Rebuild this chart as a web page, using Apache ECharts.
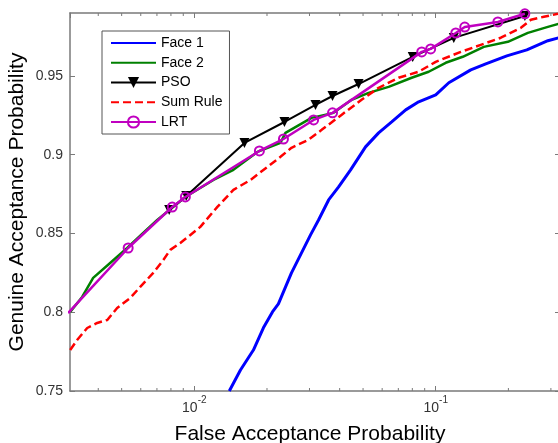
<!DOCTYPE html>
<html>
<head>
<meta charset="utf-8">
<script src="https://cdn.jsdelivr.net/npm/echarts@6/dist/echarts.min.js"></script>
<style>
html,body{margin:0;padding:0;background:#fff;}
#chart{width:558px;height:443px;}
</style>
</head>
<body>
<div id="chart"></div>
<script>
// ---- data ----
const seriesNames = ['Face 1', 'Face 2', 'PSO', 'Sum Rule', 'LRT'];

const face1X = [0.01396, 0.01553, 0.01757, 0.01933, 0.02107, 0.0223, 0.0234, 0.02526, 0.0278, 0.0303, 0.0327, 0.0360, 0.0396, 0.0444, 0.0512, 0.0580, 0.0657, 0.0751, 0.0850, 0.1000, 0.1133, 0.1397, 0.1612, 0.1971, 0.2385, 0.2915, 0.3239];
const face1Y = [0.750, 0.7633, 0.776, 0.7901, 0.8002, 0.8053, 0.8129, 0.825, 0.8377, 0.8491, 0.8586, 0.8713, 0.8796, 0.8904, 0.905, 0.9139, 0.9209, 0.9285, 0.9336, 0.938, 0.9457, 0.9539, 0.9577, 0.9628, 0.9666, 0.9724, 0.9743];

const face2X = [0.00306, 0.00343, 0.00381, 0.00448, 0.00527, 0.00614, 0.00702, 0.00918, 0.0120, 0.01452, 0.01825, 0.02275, 0.02385, 0.03058, 0.03774, 0.04482, 0.0527, 0.0638, 0.0795, 0.0935, 0.110, 0.1294, 0.1582, 0.1990, 0.2408, 0.2915, 0.3239];
const face2Y = [0.8002, 0.8097, 0.8218, 0.8313, 0.8408, 0.8504, 0.8586, 0.8732, 0.884, 0.8904, 0.9018, 0.9076, 0.9139, 0.9234, 0.9266, 0.9349, 0.9393, 0.9431, 0.9489, 0.9527, 0.9584, 0.9622, 0.9685, 0.9717, 0.9774, 0.9812, 0.9832];

const psoX = [0.00787, 0.00926, 0.01613, 0.02362, 0.03177, 0.03737, 0.0479, 0.0803, 0.1188, 0.2340];
const psoY = [0.8649, 0.8738, 0.9075, 0.9208, 0.9316, 0.9373, 0.9449, 0.9621, 0.9742, 0.9881];

const sumX = [0.00306, 0.00327, 0.0036, 0.00396, 0.00436, 0.00479, 0.00543, 0.00597, 0.00676, 0.00744, 0.00795, 0.00875, 0.00963, 0.01059, 0.01246, 0.01452, 0.01708, 0.0201, 0.02275, 0.02526, 0.0297, 0.0337, 0.0407, 0.0493, 0.0580, 0.0702, 0.0850, 0.1000, 0.1270, 0.1537, 0.1861, 0.2253, 0.2478, 0.2806, 0.3209];
const sumY = [0.776, 0.7824, 0.790, 0.7932, 0.7951, 0.8027, 0.8091, 0.8161, 0.825, 0.8332, 0.8396, 0.844, 0.8491, 0.8542, 0.8669, 0.8777, 0.884, 0.8923, 0.8987, 0.9044, 0.9095, 0.9158, 0.9253, 0.9349, 0.9425, 0.9489, 0.9527, 0.959, 0.9653, 0.9698, 0.9743, 0.9806, 0.9857, 0.9876, 0.9895];

const lrtX = [0.0030, 0.00532, 0.0081, 0.00918, 0.0186, 0.0234, 0.0312, 0.03737, 0.0875, 0.0953, 0.1211, 0.1319, 0.1809, 0.2340];
const lrtY = [0.7995, 0.8408, 0.8668, 0.8732, 0.9024, 0.910, 0.9221, 0.9266, 0.9653, 0.9672, 0.9773, 0.9811, 0.9843, 0.9895];

const yTicks = [0.75, 0.8, 0.85, 0.9, 0.95];
const minorTicks = [0.004, 0.005, 0.006, 0.007, 0.008, 0.009, 0.02, 0.03, 0.04, 0.05, 0.06, 0.07, 0.08, 0.09, 0.2, 0.3];

// ---- chart ----
const FONT = "'Liberation Sans', Arial, sans-serif";
const AXIS_COLOR = '#7a7a7a';
const LABEL_COLOR = '#333333';
const X_MIN = 0.003055, X_MAX = 0.3272;
const Y_MIN = 0.75, Y_MAX = 0.99;

function pairs(xs, ys) { return xs.map((x, i) => [x, ys[i]]); }

const chart = echarts.init(document.getElementById('chart'), null, {renderer: 'canvas'});

const axisLineStyle = {show: true, lineStyle: {color: AXIS_COLOR, width: 1.5}};
const axisTickStyle = {show: true, inside: true, length: 5, lineStyle: {color: AXIS_COLOR, width: 1}};

const noMarkerNames = ['Face 1', 'Face 2', 'Sum Rule'];

const option = {
  backgroundColor: '#ffffff',
  animation: false,
  textStyle: {fontFamily: FONT},
  grid: {left: 70, top: 13, width: 490, height: 378, containLabel: false, outerBoundsMode: 'none'},
  legend: {
    data: seriesNames.map(n => noMarkerNames.indexOf(n) >= 0 ? {name: n, itemStyle: {opacity: 0}} : {name: n}),
    orient: 'vertical',
    left: 102, top: 31,
    padding: [5, 7, 5, 8],
    itemWidth: 45, itemHeight: 14, itemGap: 5.75,
    backgroundColor: '#ffffff',
    borderColor: '#555555', borderWidth: 1,
    textStyle: {fontFamily: FONT, fontSize: 14, color: '#000'},
    selectedMode: false
  },
  xAxis: [{
    type: 'log', logBase: 10, min: X_MIN, max: X_MAX,
    name: 'False Acceptance Probability', nameLocation: 'middle', nameGap: 33, nameMoveOverlap: false,
    nameTextStyle: {fontFamily: FONT, fontSize: 21, color: '#000', padding: [0, 10, 0, 0]},
    axisLine: axisLineStyle, axisTick: axisTickStyle,
    splitLine: {show: false}, minorTick: {show: false},
    axisLabel: {
      margin: 4, showMinLabel: false, showMaxLabel: false,
      formatter: function (v) {
        const l = Math.log10(v), e = Math.round(l);
        if (Math.abs(l - e) > 1e-6) return '';
        return '{b|10}{s|' + e + '}';
      },
      rich: {
        b: {fontFamily: FONT, fontSize: 14, color: LABEL_COLOR, padding: [6, 0, 0, 0], verticalAlign: 'bottom'},
        s: {fontFamily: FONT, fontSize: 10, color: LABEL_COLOR, verticalAlign: 'top'}
      }
    }
  }, {
    type: 'log', logBase: 10, min: X_MIN, max: X_MAX, position: 'top',
    axisLine: axisLineStyle, axisTick: axisTickStyle,
    axisLabel: {show: false}, splitLine: {show: false}
  }],
  yAxis: [{
    type: 'value', min: Y_MIN, max: Y_MAX, interval: 0.05,
    name: 'Genuine Acceptance Probability', nameLocation: 'middle', nameGap: 42, nameMoveOverlap: false,
    nameTextStyle: {fontFamily: FONT, fontSize: 21, color: '#000'},
    axisLine: axisLineStyle, axisTick: axisTickStyle, splitLine: {show: false},
    axisLabel: {
      margin: 7, fontFamily: FONT, fontSize: 14, color: LABEL_COLOR, showMaxLabel: false,
      formatter: function (v) {
        for (const t of yTicks) if (Math.abs(t - v) < 1e-9) return String(t);
        return '';
      }
    }
  }, {
    type: 'value', min: Y_MIN, max: Y_MAX, interval: 0.05, position: 'right',
    axisLine: axisLineStyle, axisTick: axisTickStyle,
    axisLabel: {show: false}, splitLine: {show: false}
  }],
  series: [
    {
      name: 'minor ticks', type: 'custom', silent: true, clip: false, z: 1,
      xAxisIndex: 0, yAxisIndex: 0,
      data: minorTicks.map(v => [v, Y_MIN]),
      renderItem: function (params, api) {
        const cs = params.coordSys;
        const x = api.coord([api.value(0), api.value(1)])[0];
        const st = {stroke: AXIS_COLOR, lineWidth: 1};
        return {type: 'group', children: [
          {type: 'line', shape: {x1: x, y1: cs.y + cs.height, x2: x, y2: cs.y + cs.height - 3}, style: st},
          {type: 'line', shape: {x1: x, y1: cs.y, x2: x, y2: cs.y + 3}, style: st}
        ]};
      }
    },
    {
      name: 'Face 1', type: 'line', data: pairs(face1X, face1Y), symbol: 'none', clip: true,
      lineStyle: {color: '#0000ff', width: 3}, itemStyle: {color: '#0000ff'}, z: 3
    },
    {
      name: 'Face 2', type: 'line', data: pairs(face2X, face2Y), symbol: 'none', clip: true,
      lineStyle: {color: '#008000', width: 2.5}, itemStyle: {color: '#008000'}, z: 4
    },
    {
      name: 'PSO', type: 'line', data: pairs(psoX, psoY), symbol: 'triangle', symbolSize: 10, symbolRotate: 180,
      showSymbol: true, clip: true,
      lineStyle: {color: '#000000', width: 2}, itemStyle: {color: '#000000'}, z: 5
    },
    {
      name: 'Sum Rule', type: 'line', data: pairs(sumX, sumY), symbol: 'none', clip: true,
      lineStyle: {color: '#ff0000', width: 2.5, type: [8, 4]}, itemStyle: {color: '#ff0000'}, z: 6
    },
    {
      name: 'LRT', type: 'line', data: pairs(lrtX, lrtY), symbol: 'circle', symbolSize: 9,
      showSymbol: true, clip: true,
      lineStyle: {color: '#c000c0', width: 2.5},
      itemStyle: {color: 'rgba(255,255,255,0)', borderColor: '#c000c0', borderWidth: 2}, z: 7
    }
  ]
};
chart.setOption(option);
</script>
</body>
</html>
